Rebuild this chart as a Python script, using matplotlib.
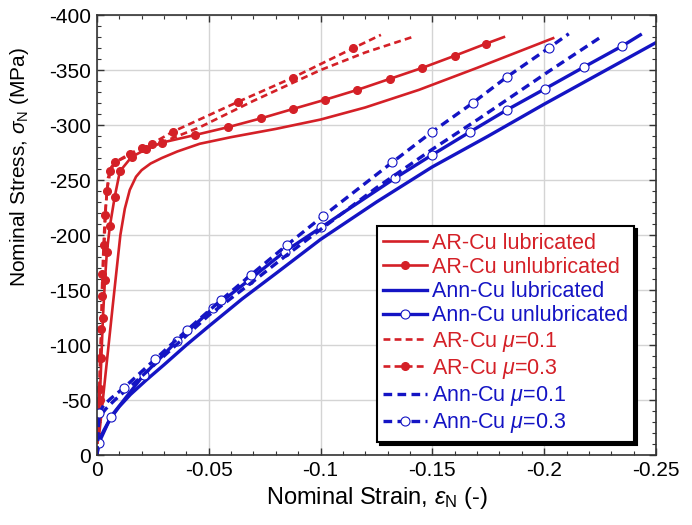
import matplotlib
matplotlib.use("Agg")
import matplotlib.pyplot as plt
from matplotlib.ticker import MultipleLocator

# AR-Cu (as received) curves, strain (-) and stress (MPa), compression negative
ar_lub_x = [0, -0.001, -0.004, -0.007, -0.0088, -0.0105, -0.0125, -0.0147, -0.0175, -0.02,
            -0.024, -0.029, -0.036, -0.046, -0.06, -0.08, -0.1, -0.12, -0.144, -0.17, -0.204]
ar_lub_y = [0, -18, -76, -134, -168, -200, -224, -241, -253, -259,
            -265, -270, -276, -283, -289, -296.5, -305, -316, -332, -352, -379]

ar_unlub_x = [0, -0.0013, -0.002, -0.0027, -0.0036, -0.0045, -0.0058, -0.008, -0.0103, -0.0155,
              -0.022, -0.029, -0.044, -0.0585, -0.0732, -0.0875, -0.102, -0.1165, -0.131,
              -0.1455, -0.16, -0.174, -0.182]
ar_unlub_y = [0, -50, -88, -125, -159, -185, -208, -235, -258, -271,
              -278, -284, -291, -298, -306, -314.5, -323, -332, -342,
              -352, -363, -374, -380]

ar_mu01_x = [0, -0.001, -0.002, -0.003, -0.004, -0.005, -0.0065, -0.009, -0.013, -0.02,
             -0.03, -0.046, -0.07, -0.1, -0.12, -0.141]
ar_mu01_y = [0, -55, -115, -175, -225, -252, -262, -267, -271, -277,
             -285, -298, -322, -350, -366, -380]

ar_mu03_x = [0, -0.0012, -0.0015, -0.002, -0.0022, -0.0025, -0.003, -0.0036, -0.0045, -0.006,
             -0.008, -0.0147, -0.02, -0.0246, -0.034, -0.063, -0.0875, -0.1147, -0.127]
ar_mu03_y = [0, -60, -88, -115, -145, -165, -191, -218, -240, -258,
             -266, -274, -279, -283, -294, -321, -343, -370, -382]

# Ann-Cu (annealed) curves
ann_lub_x = [0, -0.001, -0.003, -0.006, -0.01, -0.015, -0.022, -0.03, -0.04, -0.05,
             -0.065, -0.08, -0.1, -0.125, -0.15, -0.175, -0.2, -0.225, -0.25]
ann_lub_y = [0, -13, -22, -33, -44, -55, -68, -82, -100, -117,
             -142, -165, -196, -230, -262, -290, -319, -347, -375]

ann_unlub_x = [0, -0.0009, -0.0063, -0.021, -0.036, -0.052, -0.068, -0.084, -0.1003, -0.1335,
               -0.15, -0.167, -0.1835, -0.2004, -0.218, -0.235, -0.243]
ann_unlub_y = [0, -11, -35, -73, -104, -133.6, -159, -185, -207, -252,
               -273, -294, -314, -333, -353, -372, -382]

ann_mu01_x = [0, -0.0009, -0.004, -0.008, -0.017, -0.03, -0.05, -0.07, -0.085, -0.1,
              -0.125, -0.15, -0.171, -0.2022, -0.2253]
ann_mu01_y = [0, -34, -42, -50, -66, -90, -127, -158, -182, -205,
              -243, -278, -306, -349, -380]

ann_mu03_x = [0, -0.0009, -0.003, -0.006, -0.012, -0.026, -0.0405, -0.0556, -0.069, -0.085,
              -0.101, -0.132, -0.15, -0.168, -0.1835, -0.202, -0.211]
ann_mu03_y = [0, -38, -45, -51, -61, -87, -114, -141, -164, -191,
              -217, -266, -294, -320, -344, -370, -383]
ann_mu03_marks = [1, 4, 5, 6, 7, 8, 9, 10, 11, 12, 13, 14, 15]

x_ticks = [0, -0.05, -0.1, -0.15, -0.2, -0.25]
x_tick_labels = ['0', '-0.05', '-0.1', '-0.15', '-0.2', '-0.25']
y_ticks = [0, -50, -100, -150, -200, -250, -300, -350, -400]

RED = '#d42027'
BLUE = '#1414c4'

plt.rcParams['font.family'] = ['Liberation Sans', 'DejaVu Sans']
plt.rcParams['mathtext.fontset'] = 'custom'
plt.rcParams['mathtext.rm'] = 'Liberation Sans'
plt.rcParams['mathtext.it'] = 'Liberation Sans:italic'
plt.rcParams['axes.unicode_minus'] = False

fig = plt.figure(figsize=(6.92, 5.25), dpi=100)
ax = fig.add_axes([0.140, 0.1333, 0.808, 0.838])

dash = (0, (2.6, 1.6))
red_lw = 1.9
blue_lw = 2.4

ax.plot(ar_lub_x, ar_lub_y, color=RED, lw=red_lw, label='AR-Cu lubricated')
ax.plot(ar_unlub_x, ar_unlub_y, color=RED, lw=red_lw, marker='o', ms=5.5,
        markevery=list(range(1, len(ar_unlub_x) - 1)), label='AR-Cu unlubricated')
ax.plot(ann_lub_x, ann_lub_y, color=BLUE, lw=blue_lw, label='Ann-Cu lubricated')
ax.plot(ann_unlub_x, ann_unlub_y, color=BLUE, lw=blue_lw, marker='o', ms=6.5,
        mfc='white', mec=BLUE, mew=0.8,
        markevery=list(range(1, len(ann_unlub_x) - 1)), label='Ann-Cu unlubricated')
ax.plot(ar_mu01_x, ar_mu01_y, color=RED, lw=red_lw, ls=dash, label=r'AR-Cu $\mu$=0.1')
ax.plot(ar_mu03_x, ar_mu03_y, color=RED, lw=red_lw, ls=dash, marker='o', ms=5.5,
        markevery=list(range(1, len(ar_mu03_x) - 1)), label=r'AR-Cu $\mu$=0.3')
ax.plot(ann_mu01_x, ann_mu01_y, color=BLUE, lw=blue_lw, ls=dash, label=r'Ann-Cu $\mu$=0.1')
ax.plot(ann_mu03_x, ann_mu03_y, color=BLUE, lw=blue_lw, ls=dash, marker='o', ms=6.5,
        mfc='white', mec=BLUE, mew=0.8, markevery=ann_mu03_marks,
        label=r'Ann-Cu $\mu$=0.3')

ax.set_xlim(0, -0.25)
ax.set_ylim(0, -400)
ax.xaxis.set_minor_locator(MultipleLocator(0.01))
ax.yaxis.set_minor_locator(MultipleLocator(10))
ax.set_xticks(x_ticks)
ax.set_xticklabels(x_tick_labels)
ax.set_yticks(y_ticks)
ax.set_yticklabels([str(v) for v in y_ticks])

ax.tick_params(which='both', direction='in', top=True, right=True, labelsize=15,
               color='#333333')
ax.tick_params(which='major', length=5, width=1, pad=4)
ax.tick_params(which='minor', length=3, width=0.8)
ax.grid(True, which='major', color='#d4d4d4', lw=1)
ax.set_axisbelow(True)
for s in ax.spines.values():
    s.set_color('#333333')
    s.set_linewidth(1.2)

ax.set_xlabel(r'Nominal Strain, $\varepsilon_{\rm N}$ (-)', fontsize=17, labelpad=4)
ax.set_ylabel(r'Nominal Stress, $\sigma_{\rm N}$ (MPa)', fontsize=15)
ax.yaxis.set_label_coords(-0.118, 0.655)

leg = ax.legend(loc='lower left', bbox_to_anchor=(0.501, 0.03), fontsize=15.5,
                labelcolor='linecolor', labelspacing=0.15, handlelength=2.0,
                handletextpad=0.25, borderpad=0.3, borderaxespad=0, numpoints=1,
                fancybox=False, framealpha=1,
                edgecolor='black', shadow={'color': 'black', 'alpha': 1})
leg.get_frame().set_linewidth(1.5)

fig.savefig('out.png', dpi=100)
